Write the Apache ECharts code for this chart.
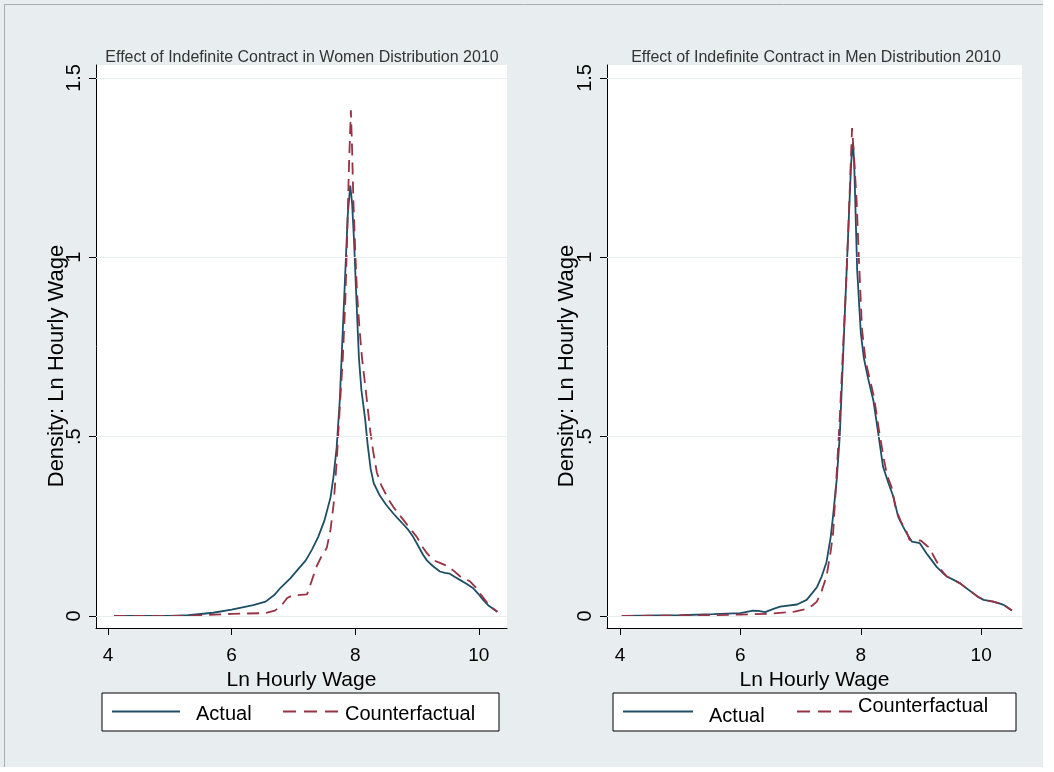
<!DOCTYPE html>
<html>
<head>
<meta charset="utf-8">
<title>Effect of Indefinite Contract 2010</title>
<script src="https://cdn.jsdelivr.net/npm/echarts@6/dist/echarts.min.js"></script>
<style>
  html, body { margin: 0; padding: 0; background: #fff; }
  #main { width: 1054px; height: 772px; }
</style>
</head>
<body>
<div id="main"></div>
<script>
// tick values shared by both panels
var xTicks = [4, 6, 8, 10];
var yTicks = [0, 0.5, 1, 1.5];

// Women 2010 - Actual
var womenActualX = [4.1, 5.0, 5.3, 5.7, 6.0, 6.35, 6.55, 6.7, 6.8, 6.95, 7.05, 7.2, 7.3, 7.4, 7.5, 7.6, 7.65, 7.7, 7.75, 7.8, 7.85, 7.88, 7.92, 7.95, 7.98, 8.02, 8.06, 8.1, 8.16, 8.2, 8.25, 8.3, 8.4, 8.5, 8.62, 8.7, 8.78, 8.86, 8.94, 9.02, 9.1, 9.16, 9.25, 9.37, 9.45, 9.53, 9.62, 9.7, 9.8, 9.91, 10.0, 10.07, 10.15, 10.23, 10.3];
var womenActualY = [0, 0, 0.002, 0.009, 0.018, 0.03, 0.04, 0.06, 0.08, 0.105, 0.125, 0.155, 0.185, 0.22, 0.265, 0.33, 0.39, 0.47, 0.6, 0.8, 1.0, 1.12, 1.2, 1.15, 1.05, 0.88, 0.72, 0.63, 0.55, 0.48, 0.41, 0.37, 0.335, 0.31, 0.285, 0.27, 0.255, 0.24, 0.22, 0.195, 0.17, 0.155, 0.14, 0.124, 0.12, 0.118, 0.108, 0.1, 0.09, 0.077, 0.06, 0.045, 0.03, 0.02, 0.012];

// Women 2010 - Counterfactual
var womenCounterX = [4.1, 5.3, 5.6, 6.0, 6.55, 6.7, 6.8, 6.9, 6.98, 7.22, 7.3, 7.38, 7.45, 7.54, 7.6, 7.65, 7.7, 7.75, 7.8, 7.84, 7.87, 7.9, 7.93, 7.95, 7.97, 8.0, 8.03, 8.07, 8.11, 8.15, 8.19, 8.24, 8.29, 8.35, 8.42, 8.48, 8.55, 8.62, 8.7, 8.78, 8.88, 9.0, 9.08, 9.16, 9.26, 9.37, 9.48, 9.6, 9.7, 9.86, 9.95, 10.02, 10.12, 10.23, 10.3];
var womenCounterY = [0, 0, 0.003, 0.006, 0.008, 0.015, 0.028, 0.05, 0.057, 0.06, 0.1, 0.14, 0.165, 0.19, 0.24, 0.31, 0.43, 0.58, 0.72, 0.88, 1.06, 1.26, 1.41, 1.3, 1.16, 1.02, 0.9, 0.8, 0.72, 0.66, 0.6, 0.52, 0.46, 0.4, 0.365, 0.345, 0.322, 0.303, 0.285, 0.268, 0.245, 0.22, 0.195, 0.175, 0.156, 0.148, 0.14, 0.125, 0.11, 0.096, 0.08, 0.063, 0.04, 0.021, 0.012];

// Men 2010 - Actual
var menActualX = [4.03, 5.0, 5.55, 6.0, 6.21, 6.3, 6.41, 6.55, 6.66, 6.94, 7.1, 7.2, 7.27, 7.35, 7.43, 7.5, 7.54, 7.6, 7.65, 7.7, 7.74, 7.79, 7.84, 7.87, 7.89, 7.94, 8.0, 8.05, 8.12, 8.21, 8.29, 8.37, 8.46, 8.54, 8.62, 8.7, 8.76, 8.85, 8.98, 9.09, 9.18, 9.26, 9.35, 9.43, 9.55, 9.65, 9.75, 9.87, 9.95, 10.04, 10.2, 10.3, 10.37, 10.45, 10.51];
var menActualY = [0, 0.002, 0.005, 0.008, 0.015, 0.014, 0.011, 0.02, 0.026, 0.032, 0.045, 0.065, 0.08, 0.11, 0.15, 0.22, 0.28, 0.38, 0.5, 0.7, 0.864, 1.065, 1.264, 1.32, 1.264, 0.964, 0.79, 0.72, 0.663, 0.6, 0.509, 0.416, 0.37, 0.333, 0.277, 0.25, 0.231, 0.207, 0.203, 0.175, 0.155, 0.137, 0.122, 0.11, 0.1, 0.091, 0.078, 0.063, 0.053, 0.045, 0.04, 0.035, 0.031, 0.022, 0.015];

// Men 2010 - Counterfactual
var menCounterX = [4.03, 5.5, 6.0, 6.44, 6.77, 6.9, 7.1, 7.2, 7.27, 7.35, 7.43, 7.5, 7.54, 7.6, 7.65, 7.71, 7.75, 7.79, 7.83, 7.855, 7.88, 7.93, 7.97, 8.02, 8.08, 8.15, 8.22, 8.3, 8.38, 8.44, 8.51, 8.58, 8.66, 8.76, 8.81, 9.0, 9.1, 9.15, 9.2, 9.26, 9.35, 9.43, 9.55, 9.65, 9.75, 9.87, 9.95, 10.04, 10.2, 10.3, 10.37, 10.45, 10.51];
var menCounterY = [0, 0.002, 0.004, 0.006, 0.01, 0.012, 0.02, 0.03, 0.04, 0.07, 0.11, 0.18, 0.23, 0.4, 0.55, 0.764, 0.9, 1.065, 1.25, 1.36, 1.3, 1.16, 0.99, 0.8, 0.71, 0.66, 0.61, 0.52, 0.44, 0.39, 0.36, 0.3, 0.265, 0.235, 0.212, 0.21, 0.195, 0.19, 0.17, 0.152, 0.125, 0.11, 0.1, 0.091, 0.078, 0.063, 0.053, 0.045, 0.04, 0.035, 0.031, 0.022, 0.015];

var navy = '#1d4f66';
var maroon = '#983245';
var font = 'Liberation Sans, Arial, sans-serif';

function pairs(xs, ys) {
  return xs.map(function (x, i) { return [x, ys[i]]; });
}

function yLabel(v) {
  return String(v).replace(/^0\./, '.');
}

function makeX(idx, min, max) {
  return {
    type: 'value', gridIndex: idx, min: min, max: max,
    axisLine: { show: true, onZero: false, lineStyle: { color: '#000', width: 1 } },
    axisTick: { show: true, customValues: xTicks, length: 7, lineStyle: { color: '#000' } },
    axisLabel: { customValues: xTicks, fontSize: 19, color: '#000', fontFamily: font, margin: 18 },
    splitLine: { show: false },
    name: 'Ln Hourly Wage', nameLocation: 'middle', nameGap: 31,
    nameTextStyle: { fontSize: 21, color: '#000', fontFamily: font }
  };
}

function makeY(idx) {
  return {
    type: 'value', gridIndex: idx, min: -0.0335, max: 1.536,
    axisLine: { show: true, onZero: false, lineStyle: { color: '#000', width: 1 } },
    axisTick: { show: true, customValues: yTicks, length: 7, lineStyle: { color: '#000' } },
    axisLabel: { customValues: yTicks, rotate: 90, fontSize: 20, color: '#000', fontFamily: font, margin: 12, formatter: yLabel },
    splitLine: { show: false }
  };
}

function gridLines() {
  return {
    silent: true, symbol: ['none', 'none'], label: { show: false },
    lineStyle: { color: '#e9eef0', type: 'solid', width: 1 },
    data: yTicks.map(function (v) { return { yAxis: v }; })
  };
}

function lineSeries(name, idx, data, color, dashed, withGrid) {
  var s = {
    name: name, type: 'line', xAxisIndex: idx, yAxisIndex: idx,
    data: data, showSymbol: false, symbol: 'none',
    lineStyle: { color: color, width: 1.8, type: dashed ? [12, 7] : 'solid' },
    z: dashed ? 3 : 2
  };
  if (withGrid) s.markLine = gridLines();
  return s;
}

function legendBox(x, y, w, textActualY, textCounterY, l1, l2, tx1, tx2) {
  return {
    type: 'group',
    children: [
      { type: 'rect', shape: { x: x, y: y, width: w, height: 38 }, style: { fill: '#fff', stroke: '#000', lineWidth: 1 } },
      { type: 'line', shape: { x1: l1[0], y1: 711.5, x2: l1[1], y2: 711.5 }, style: { stroke: navy, lineWidth: 1.8 } },
      { type: 'text', x: tx1, y: textActualY, style: { text: 'Actual', font: '20px ' + font, fill: '#000', textVerticalAlign: 'middle' } },
      { type: 'line', shape: { x1: l2[0], y1: 711.5, x2: l2[1], y2: 711.5 }, style: { stroke: maroon, lineWidth: 1.8, lineDash: [13, 8] } },
      { type: 'text', x: tx2, y: textCounterY, style: { text: 'Counterfactual', font: '20px ' + font, fill: '#000', textVerticalAlign: 'middle' } }
    ]
  };
}

var myChart = echarts.init(document.getElementById('main'));

var option = {
  backgroundColor: '#e8eef0',
  animation: false,
  title: [
    { text: 'Effect of Indefinite Contract in Women Distribution 2010', left: 297, top: 45, textAlign: 'center',
      textStyle: { fontSize: 16, fontWeight: 'normal', color: '#333', fontFamily: font } },
    { text: 'Effect of Indefinite Contract in Men Distribution 2010', left: 811, top: 45, textAlign: 'center',
      textStyle: { fontSize: 16, fontWeight: 'normal', color: '#333', fontFamily: font } }
  ],
  grid: [
    { left: 96, top: 65, width: 411, height: 563, show: true, backgroundColor: '#fff', borderWidth: 0 },
    { left: 607, top: 65, width: 415, height: 563, show: true, backgroundColor: '#fff', borderWidth: 0 }
  ],
  xAxis: [makeX(0, 3.806, 10.456), makeX(1, 3.784, 10.678)],
  yAxis: [makeY(0), makeY(1)],
  series: [
    lineSeries('Actual', 0, pairs(womenActualX, womenActualY), navy, false, true),
    lineSeries('Counterfactual', 0, pairs(womenCounterX, womenCounterY), maroon, true, false),
    lineSeries('Actual', 1, pairs(menActualX, menActualY), navy, false, true),
    lineSeries('Counterfactual', 1, pairs(menCounterX, menCounterY), maroon, true, false)
  ],
  graphic: [
    { type: 'rect', shape: { x: 1043, y: 0, width: 11, height: 772 }, style: { fill: '#fff' } },
    { type: 'rect', shape: { x: 0, y: 767, width: 1054, height: 5 }, style: { fill: '#fff' } },
    { type: 'polyline', shape: { points: [[4.5, 767], [4.5, 4.5], [1043, 4.5]] }, style: { stroke: '#a9adb0', lineWidth: 1, fill: null } },
    { type: 'text', x: 57, y: 366, rotation: Math.PI / 2,
      style: { text: 'Density: Ln Hourly Wage', font: '22px ' + font, fill: '#000', textAlign: 'center', textVerticalAlign: 'middle' } },
    { type: 'text', x: 567, y: 366, rotation: Math.PI / 2,
      style: { text: 'Density: Ln Hourly Wage', font: '22px ' + font, fill: '#000', textAlign: 'center', textVerticalAlign: 'middle' } },
    legendBox(102, 693, 397, 714, 714, [112, 180], [283, 343], 196, 345),
    legendBox(613, 693, 403, 716, 706, [623, 693], [797, 857], 709, 858)
  ]
};

myChart.setOption(option);
</script>
</body>
</html>
